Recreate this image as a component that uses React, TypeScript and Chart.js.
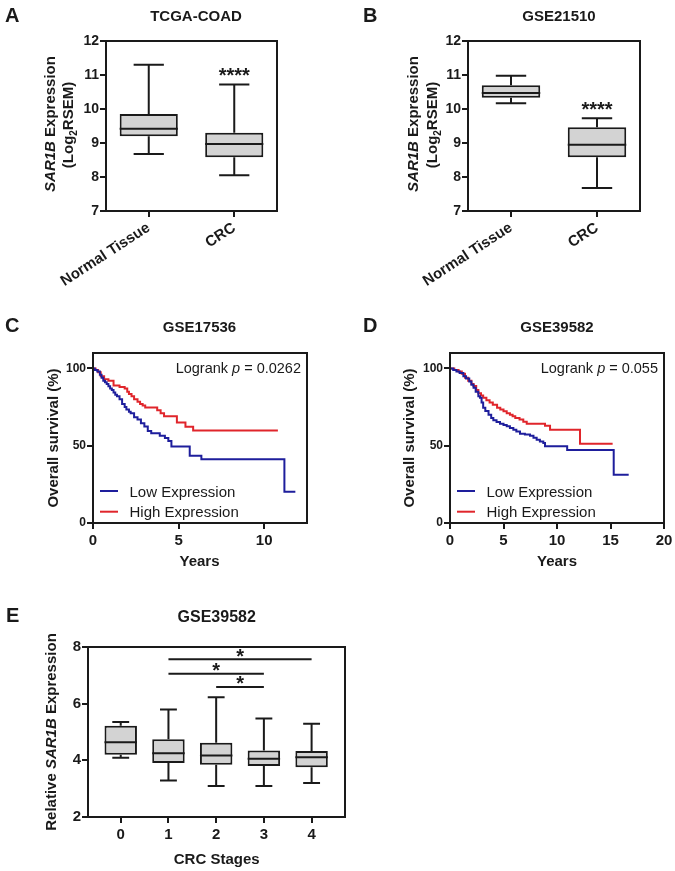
import React, { useEffect, useRef } from 'react';
import { Chart, registerables } from 'chart.js';

Chart.register(...registerables);

const FONT = '"Liberation Sans", Arial, Helvetica, sans-serif';
const INK = '#1a1a1a';
const BOX_FILL = '#d3d3d3';
const LOW_COLOR = '#1e1e9c';
const HIGH_COLOR = '#e0252b';

// ---------- Panel A : TCGA-COAD ----------
const A_GROUPS = ['Normal Tissue', 'CRC'];
const A_WHISK_LO = [8.68, 8.05];
const A_Q1 = [9.2, 8.58];
const A_MEDIAN = [9.42, 8.97];
const A_Q3 = [9.85, 9.3];
const A_WHISK_HI = [11.3, 10.72];
const A_SIGNIF = ['', '****'];

// ---------- Panel B : GSE21510 ----------
const B_GROUPS = ['Normal Tissue', 'CRC'];
const B_WHISK_LO = [10.17, 7.68];
const B_Q1 = [10.33, 8.58];
const B_MEDIAN = [10.47, 8.95];
const B_Q3 = [10.7, 9.46];
const B_WHISK_HI = [10.98, 9.73];
const B_SIGNIF = ['', '****'];

const EXPR_TICKS = [7, 8, 9, 10, 11, 12];

// ---------- Panel C : GSE17536 survival ----------
const C_LOW_YEARS = [0, 0.1, 0.25, 0.4, 0.5, 0.6, 0.7, 0.8, 0.9, 1.0, 1.1, 1.2, 1.3, 1.4, 1.55, 1.7, 1.85, 1.95, 2.1, 2.2, 2.4, 2.6, 2.8, 3.0, 3.2, 3.4, 3.9, 4.2, 4.4, 4.58, 5.65, 6.33, 11.18, 11.82];
const C_LOW_SURV = [100, 99, 98, 96, 94, 92, 91, 90, 88.5, 87, 86, 84.5, 83, 82, 80, 77, 75, 73.5, 72, 71, 68.5, 67, 64.5, 62.5, 59.5, 58, 56.5, 55, 53, 49.5, 43.5, 41.3, 20.2, 20.2];
const C_HIGH_YEARS = [0, 0.15, 0.3, 0.45, 0.65, 0.9, 1.2, 1.55, 1.85, 2.0, 2.1, 2.25, 2.4, 2.6, 2.75, 2.9, 3.05, 3.75, 3.95, 4.15, 4.9, 5.4, 5.85, 10.8];
const C_HIGH_SURV = [100, 99, 97.5, 95, 93, 92, 89, 88, 87, 85, 83.5, 82, 80, 78.5, 77, 76, 74.7, 73, 71, 69, 65, 62.3, 59.8, 59.8];
const C_YEAR_TICKS = [0, 5, 10];
const C_PVALUE = '0.0262';

// ---------- Panel D : GSE39582 survival ----------
const D_LOW_YEARS = [0, 0.3, 0.6, 0.9, 1.25, 1.5, 1.8, 2.0, 2.2, 2.4, 2.65, 2.8, 2.95, 3.1, 3.3, 3.6, 3.85, 4.05, 4.35, 4.67, 5.0, 5.3, 5.6, 5.92, 6.2, 6.54, 7.0, 7.48, 7.8, 8.1, 8.4, 8.72, 8.88, 10.95, 15.3, 16.7];
const D_LOW_SURV = [100, 99, 98, 97, 95, 93.5, 91.5, 89.5, 87.5, 85, 82, 81, 78, 74.5, 72.5, 70, 68, 66.5, 65.3, 64.3, 63.4, 62.6, 61.5, 60.4, 59.2, 57.8, 57.2, 56.5, 55.2, 53.9, 52.8, 51.7, 49.6, 47.2, 31.3, 31.3];
const D_HIGH_YEARS = [0, 0.4, 0.8, 1.1, 1.4, 1.7, 2.0, 2.2, 2.45, 2.65, 2.9, 3.1, 3.4, 3.7, 4.0, 4.4, 4.7, 5.0, 5.3, 5.6, 5.85, 6.1, 6.5, 6.85, 7.17, 8.88, 9.35, 12.15, 15.2];
const D_HIGH_SURV = [100, 99, 98, 96.5, 94, 92, 90, 88.6, 86, 84, 82.5, 81, 79.5, 78, 76.5, 74.5, 73.5, 72.3, 71, 70, 69, 68, 67, 65.5, 64.3, 63, 60.4, 51.3, 51.3];
const D_YEAR_TICKS = [0, 5, 10, 15, 20];
const D_PVALUE = '0.055';

const SURV_TICKS = [0, 50, 100];
const SERIES_NAMES = ['Low Expression', 'High Expression'];

// ---------- Panel E : GSE39582 by stage ----------
const E_STAGES = [0, 1, 2, 3, 4];
const E_WHISK_LO = [4.09, 3.29, 3.09, 3.09, 3.2];
const E_Q1 = [4.2, 3.91, 3.84, 3.8, 3.76];
const E_MEDIAN = [4.64, 4.25, 4.17, 4.06, 4.11];
const E_Q3 = [5.22, 4.74, 4.62, 4.35, 4.33];
const E_WHISK_HI = [5.35, 5.79, 6.23, 5.48, 5.29];
const E_TICKS = [2, 4, 6, 8];
const E_SIG_FROM = [1, 1, 2];
const E_SIG_TO = [4, 3, 3];
const E_SIG_LEVEL = [7.57, 7.06, 6.59];
const E_SIG_MARK = ['*', '*', '*'];

// ---------- layout ----------
type Rect = { x: number; y: number; w: number; h: number; l: number; t: number; r: number; b: number };
const PANEL_A: Rect = { x: 0, y: 0, w: 337, h: 290, l: 106, t: 41, r: 277, b: 211 };
const PANEL_B: Rect = { x: 337, y: 0, w: 338, h: 290, l: 468, t: 41, r: 640, b: 211 };
const PANEL_C: Rect = { x: 0, y: 290, w: 337, h: 285, l: 93, t: 353, r: 307, b: 523 };
const PANEL_D: Rect = { x: 337, y: 290, w: 338, h: 285, l: 450, t: 353, r: 664, b: 523 };
const PANEL_E: Rect = { x: 0, y: 575, w: 675, h: 296, l: 88, t: 647, r: 345, b: 817 };
const PANELS = [PANEL_A, PANEL_B, PANEL_C, PANEL_D, PANEL_E];

function frame(rect: Rect) {
  return {
    padding: { left: 0, top: rect.t - rect.y, right: rect.x + rect.w - rect.r, bottom: 0 },
    yW: rect.l - rect.x,
    xH: rect.y + rect.h - rect.b,
  };
}
const fixW = (w: number) => (s: any) => { s.width = w; s.paddingTop = 0; s.paddingBottom = 0; s.paddingLeft = 0; s.paddingRight = 0; };
const fixH = (h: number) => (s: any) => { s.height = h; s.paddingLeft = 0; s.paddingRight = 0; s.paddingTop = 0; s.paddingBottom = 0; };
const setTicks = (vals: number[]) => (s: any) => { s.ticks = vals.map((v) => ({ value: v })); };

type Seg = { t: string; size: number; bold?: boolean; italic?: boolean; dy?: number };
const fontOf = (s: Seg) => `${s.italic ? 'italic ' : ''}${s.bold ? 'bold ' : ''}${s.size}px ${FONT}`;

function drawText(ctx: CanvasRenderingContext2D, segs: Seg[], x: number, y: number, align = 'center', angle = 0) {
  ctx.save();
  ctx.translate(x, y);
  if (angle) ctx.rotate(angle);
  let total = 0;
  for (const s of segs) { ctx.font = fontOf(s); total += ctx.measureText(s.t).width; }
  let cx = align === 'left' ? 0 : align === 'right' ? -total : -total / 2;
  ctx.textAlign = 'left';
  ctx.textBaseline = 'alphabetic';
  ctx.fillStyle = INK;
  for (const s of segs) {
    ctx.font = fontOf(s);
    ctx.fillText(s.t, cx, s.dy || 0);
    cx += ctx.measureText(s.t).width;
  }
  ctx.restore();
}

function scaleStyle(fontSize: number, tickLength: number, padding: number) {
  return {
    grid: { display: true, drawOnChartArea: false, drawTicks: true, tickLength, lineWidth: 2, color: INK, offset: false },
    border: { display: true, color: INK, width: 2 },
    ticks: { color: INK, font: { family: FONT, size: fontSize, weight: 'bold' }, padding, autoSkip: false },
  };
}

const framePlugin = {
  id: 'plotFrame',
  afterDraw(chart: any) {
    const { left, top, right, bottom } = chart.chartArea;
    const ctx = chart.ctx;
    ctx.save();
    ctx.strokeStyle = INK;
    ctx.lineWidth = 2;
    ctx.strokeRect(left, top, right - left, bottom - top);
    ctx.restore();
  },
};

function whiskerPlugin(lo: number[], med: number[], hi: number[]) {
  return {
    id: 'whiskers',
    afterDatasetsDraw(chart: any) {
      const ctx = chart.ctx;
      const ys = chart.scales.y;
      const meta = chart.getDatasetMeta(0);
      ctx.save();
      ctx.strokeStyle = INK;
      ctx.lineWidth = 2;
      meta.data.forEach((el: any, i: number) => {
        const p = el.getProps(['x', 'y', 'base', 'width'], true);
        const top = Math.min(p.y, p.base);
        const bot = Math.max(p.y, p.base);
        const yHi = ys.getPixelForValue(hi[i]);
        const yLo = ys.getPixelForValue(lo[i]);
        const yMed = ys.getPixelForValue(med[i]);
        const half = p.width / 2;
        const cap = p.width * 0.26;
        ctx.beginPath();
        ctx.moveTo(p.x, yHi); ctx.lineTo(p.x, top);
        ctx.moveTo(p.x, bot); ctx.lineTo(p.x, yLo);
        ctx.moveTo(p.x - cap, yHi); ctx.lineTo(p.x + cap, yHi);
        ctx.moveTo(p.x - cap, yLo); ctx.lineTo(p.x + cap, yLo);
        ctx.moveTo(p.x - half, yMed); ctx.lineTo(p.x + half, yMed);
        ctx.stroke();
      });
      ctx.restore();
    },
  };
}

function decoPlugin(rect: Rect, draw: (ctx: CanvasRenderingContext2D, chart: any) => void) {
  return {
    id: 'deco',
    afterDraw(chart: any) {
      const ctx = chart.ctx;
      ctx.save();
      ctx.translate(-rect.x, -rect.y);
      draw(ctx, chart);
      ctx.restore();
    },
  };
}

const UP = -Math.PI / 2;

function buildBoxChart(canvas: HTMLCanvasElement, rect: Rect, cfg: any) {
  const f = frame(rect);
  const base = scaleStyle(15, 6, 2);
  const yBase = scaleStyle(14, 6, 1);
  return new Chart(canvas, {
    type: 'bar',
    data: {
      labels: cfg.labels,
      datasets: [{
        data: cfg.q1.map((v: number, i: number) => [v, cfg.q3[i]]),
        backgroundColor: BOX_FILL,
        borderColor: INK,
        borderWidth: 2,
        borderSkipped: false,
        categoryPercentage: 1,
        barPercentage: 0.68,
      }],
    },
    options: {
      responsive: false,
      animation: false,
      events: [],
      layout: { padding: f.padding },
      plugins: { legend: { display: false }, tooltip: { enabled: false } },
      scales: {
        x: { ...base, ticks: { ...base.ticks, minRotation: 33, maxRotation: 33 }, afterFit: fixH(f.xH) },
        y: { ...yBase, min: cfg.yMin, max: cfg.yMax, afterBuildTicks: setTicks(cfg.yTicks), afterFit: fixW(f.yW) },
      },
    } as any,
    plugins: [whiskerPlugin(cfg.lo, cfg.med, cfg.hi), framePlugin, decoPlugin(rect, (ctx, chart) => {
      cfg.deco(ctx);
      const xs = chart.scales.x;
      const ys = chart.scales.y;
      cfg.sig.forEach((s: string, i: number) => {
        if (!s) return;
        drawText(ctx, [{ t: s, size: 20, bold: true }], xs.getPixelForValue(i) + rect.x, ys.getPixelForValue(cfg.hi[i]) + rect.y - 2.5, 'center');
      });
    })] as any,
  });
}

function buildKM(canvas: HTMLCanvasElement, rect: Rect, cfg: any) {
  const f = frame(rect);
  const xb = scaleStyle(15, 6, 3);
  const yb = scaleStyle(12, 6, 1);
  const mk = (ts: number[], ss: number[]) => ts.map((t, i) => ({ x: t, y: ss[i] }));
  return new Chart(canvas, {
    type: 'line',
    data: {
      datasets: [
        { label: SERIES_NAMES[0], data: mk(cfg.lowT, cfg.lowS), borderColor: LOW_COLOR, borderWidth: 2, pointRadius: 0, stepped: 'before', fill: false },
        { label: SERIES_NAMES[1], data: mk(cfg.highT, cfg.highS), borderColor: HIGH_COLOR, borderWidth: 2, pointRadius: 0, stepped: 'before', fill: false },
      ],
    },
    options: {
      responsive: false,
      animation: false,
      events: [],
      layout: { padding: f.padding },
      plugins: { legend: { display: false }, tooltip: { enabled: false } },
      scales: {
        x: { type: 'linear', ...xb, min: 0, max: cfg.xMax, afterBuildTicks: setTicks(cfg.xTicks), afterFit: fixH(f.xH) },
        y: { type: 'linear', ...yb, min: 0, max: 110, afterBuildTicks: setTicks(SURV_TICKS), afterFit: fixW(f.yW) },
      },
    } as any,
    plugins: [framePlugin, decoPlugin(rect, (ctx, chart) => {
      drawText(ctx, [{ t: cfg.letter, size: 20, bold: true }], cfg.letterX, 332, 'left');
      drawText(ctx, [{ t: cfg.title, size: 15, bold: true }], cfg.titleX, 331.5, 'center');
      drawText(ctx, [{ t: 'Overall survival (%)', size: 15, bold: true }], cfg.yTitleX, 438, 'center', UP);
      drawText(ctx, [{ t: 'Years', size: 15, bold: true }], cfg.titleX, 566, 'center');
      drawText(ctx, [{ t: 'Logrank ', size: 14.5 }, { t: 'p', size: 14.5, italic: true }, { t: ' = ' + cfg.p, size: 14.5 }], rect.r - 6, 373, 'right');
      chart.data.datasets.forEach((ds: any, i: number) => {
        const ly = 491 + 20.7 * i;
        ctx.save();
        ctx.strokeStyle = ds.borderColor;
        ctx.lineWidth = 2;
        ctx.beginPath();
        ctx.moveTo(rect.l + 7, ly);
        ctx.lineTo(rect.l + 25, ly);
        ctx.stroke();
        ctx.restore();
        drawText(ctx, [{ t: ds.label, size: 15 }], rect.l + 36.5, ly + 5.5, 'left');
      });
    })] as any,
  });
}

function buildStageChart(canvas: HTMLCanvasElement, rect: Rect) {
  const f = frame(rect);
  const xb = scaleStyle(15, 6, 3);
  const yb = scaleStyle(15, 6, 1);
  return new Chart(canvas, {
    type: 'bar',
    data: {
      datasets: [{
        data: E_STAGES.map((s, i) => ({ x: s, y: [E_Q1[i], E_Q3[i]] })),
        backgroundColor: BOX_FILL,
        borderColor: INK,
        borderWidth: 2,
        borderSkipped: false,
        categoryPercentage: 1,
        barPercentage: 0.68,
      }],
    },
    options: {
      responsive: false,
      animation: false,
      events: [],
      layout: { padding: f.padding },
      plugins: { legend: { display: false }, tooltip: { enabled: false } },
      scales: {
        x: { type: 'linear', offset: false, ...xb, min: -0.686, max: 4.7, afterBuildTicks: setTicks(E_STAGES), afterFit: fixH(f.xH) },
        y: { type: 'linear', ...yb, min: 2, max: 8, afterBuildTicks: setTicks(E_TICKS), afterFit: fixW(f.yW) },
      },
    } as any,
    plugins: [whiskerPlugin(E_WHISK_LO, E_MEDIAN, E_WHISK_HI), framePlugin, decoPlugin(rect, (ctx, chart) => {
      drawText(ctx, [{ t: 'E', size: 20, bold: true }], 6, 622, 'left');
      drawText(ctx, [{ t: 'GSE39582', size: 16, bold: true }], 216.7, 621.7, 'center');
      drawText(ctx, [
        { t: 'Relative ', size: 15, bold: true },
        { t: 'SAR1B', size: 15, bold: true, italic: true },
        { t: ' Expression', size: 15, bold: true },
      ], 55.7, 732, 'center', UP);
      drawText(ctx, [{ t: 'CRC Stages', size: 15, bold: true }], 216.7, 864, 'center');
      const xs = chart.scales.x;
      const ys = chart.scales.y;
      E_SIG_FROM.forEach((from, i) => {
        const x1 = xs.getPixelForValue(from) + rect.x;
        const x2 = xs.getPixelForValue(E_SIG_TO[i]) + rect.x;
        const yy = ys.getPixelForValue(E_SIG_LEVEL[i]) + rect.y;
        ctx.save();
        ctx.strokeStyle = INK;
        ctx.lineWidth = 2;
        ctx.beginPath();
        ctx.moveTo(x1, yy);
        ctx.lineTo(x2, yy);
        ctx.stroke();
        ctx.restore();
        drawText(ctx, [{ t: E_SIG_MARK[i], size: 20, bold: true }], (x1 + x2) / 2, yy + 3.5, 'center');
      });
    })] as any,
  });
}

export default function App() {
  const r0 = useRef<HTMLCanvasElement>(null);
  const r1 = useRef<HTMLCanvasElement>(null);
  const r2 = useRef<HTMLCanvasElement>(null);
  const r3 = useRef<HTMLCanvasElement>(null);
  const r4 = useRef<HTMLCanvasElement>(null);
  const refs = [r0, r1, r2, r3, r4];

  useEffect(() => {
    Chart.defaults.font.family = FONT;
    Chart.defaults.color = INK;
    const charts = [
      buildBoxChart(r0.current!, PANEL_A, {
        labels: A_GROUPS, lo: A_WHISK_LO, q1: A_Q1, med: A_MEDIAN, q3: A_Q3, hi: A_WHISK_HI, sig: A_SIGNIF,
        yMin: 7, yMax: 12, yTicks: EXPR_TICKS,
        deco: (ctx: CanvasRenderingContext2D) => {
          drawText(ctx, [{ t: 'A', size: 20, bold: true }], 5, 22, 'left');
          drawText(ctx, [{ t: 'TCGA-COAD', size: 15, bold: true }], 196, 21, 'center');
          drawText(ctx, [{ t: 'SAR1B', size: 15, bold: true, italic: true }, { t: ' Expression', size: 15, bold: true }], 54.5, 124, 'center', UP);
          drawText(ctx, [{ t: '(Log', size: 15, bold: true }, { t: '2', size: 10, bold: true, dy: 4 }, { t: 'RSEM)', size: 15, bold: true }], 72.5, 125, 'center', UP);
        },
      }),
      buildBoxChart(r1.current!, PANEL_B, {
        labels: B_GROUPS, lo: B_WHISK_LO, q1: B_Q1, med: B_MEDIAN, q3: B_Q3, hi: B_WHISK_HI, sig: B_SIGNIF,
        yMin: 7, yMax: 12, yTicks: EXPR_TICKS,
        deco: (ctx: CanvasRenderingContext2D) => {
          drawText(ctx, [{ t: 'B', size: 20, bold: true }], 363, 22, 'left');
          drawText(ctx, [{ t: 'GSE21510', size: 15, bold: true }], 559, 21, 'center');
          drawText(ctx, [{ t: 'SAR1B', size: 15, bold: true, italic: true }, { t: ' Expression', size: 15, bold: true }], 418, 124, 'center', UP);
          drawText(ctx, [{ t: '(Log', size: 15, bold: true }, { t: '2', size: 10, bold: true, dy: 4 }, { t: 'RSEM)', size: 15, bold: true }], 436.5, 125, 'center', UP);
        },
      }),
      buildKM(r2.current!, PANEL_C, {
        lowT: C_LOW_YEARS, lowS: C_LOW_SURV, highT: C_HIGH_YEARS, highS: C_HIGH_SURV,
        xMax: 12.5, xTicks: C_YEAR_TICKS, p: C_PVALUE,
        letter: 'C', letterX: 5, title: 'GSE17536', titleX: 199.5, yTitleX: 57.5,
      }),
      buildKM(r3.current!, PANEL_D, {
        lowT: D_LOW_YEARS, lowS: D_LOW_SURV, highT: D_HIGH_YEARS, highS: D_HIGH_SURV,
        xMax: 20, xTicks: D_YEAR_TICKS, p: D_PVALUE,
        letter: 'D', letterX: 363, title: 'GSE39582', titleX: 557, yTitleX: 414,
      }),
      buildStageChart(r4.current!, PANEL_E),
    ];
    return () => charts.forEach((c) => c.destroy());
  }, []);

  return (
    <div style={{ position: 'absolute', left: 0, top: 0, width: 675, height: 871, background: '#fff' }}>
      {PANELS.map((p, i) => (
        <canvas
          key={i}
          ref={refs[i]}
          width={p.w}
          height={p.h}
          style={{ position: 'absolute', left: p.x, top: p.y, width: p.w, height: p.h }}
        />
      ))}
    </div>
  );
}
